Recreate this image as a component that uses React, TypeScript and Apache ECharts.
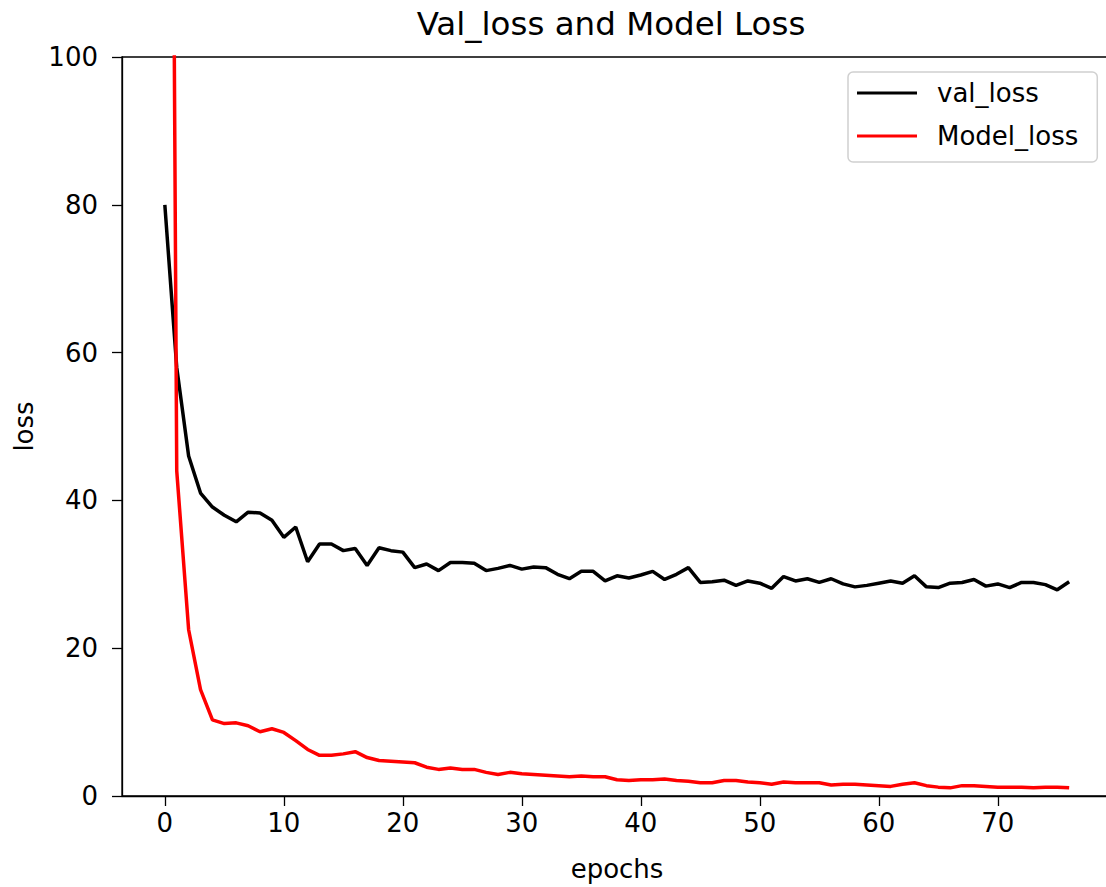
import React, { useEffect, useRef } from "react";
import * as echarts from "echarts";

const TITLE = "Val_loss and Model Loss";
const X_LABEL = "epochs";
const Y_LABEL = "loss";
const X_TICKS = [0, 10, 20, 30, 40, 50, 60, 70];

const valLoss = [
  80, 58, 46, 41, 39.1, 38, 37.1, 38.4, 38.3, 37.3,
  35, 36.4, 31.7, 34.1, 34.1, 33.2, 33.5, 31.2, 33.6, 33.2,
  33.0, 30.9, 31.4, 30.5, 31.6, 31.6, 31.5, 30.5, 30.8, 31.2,
  30.7, 31.0, 30.9, 30.0, 29.4, 30.4, 30.4, 29.1, 29.8, 29.5,
  29.9, 30.4, 29.3, 30.0, 30.9, 28.9, 29.0, 29.2, 28.5, 29.1,
  28.8, 28.1, 29.7, 29.1, 29.4, 28.9, 29.4, 28.7, 28.3, 28.5,
  28.8, 29.1, 28.8, 29.8, 28.3, 28.2, 28.8, 28.9, 29.3, 28.4,
  28.7, 28.2, 28.9, 28.9, 28.6, 27.9, 29.0,
];

const modelLoss = [
  320, 44, 22.5, 14.4, 10.3, 9.8, 9.9, 9.5, 8.7, 9.1,
  8.6, 7.5, 6.3, 5.5, 5.5, 5.7, 6.0, 5.2, 4.8, 4.7,
  4.6, 4.5, 3.9, 3.6, 3.8, 3.6, 3.6, 3.2, 2.9, 3.2,
  3.0, 2.9, 2.8, 2.7, 2.6, 2.7, 2.6, 2.6, 2.2, 2.1,
  2.2, 2.2, 2.3, 2.1, 2.0, 1.8, 1.8, 2.1, 2.1, 1.9,
  1.8, 1.6, 1.9, 1.8, 1.8, 1.8, 1.5, 1.6, 1.6, 1.5,
  1.4, 1.3, 1.6, 1.8, 1.4, 1.2, 1.1, 1.4, 1.4, 1.3,
  1.2, 1.2, 1.2, 1.1, 1.2, 1.2, 1.1,
];

const FONT = "DejaVu Sans";

export default function App() {
  const ref = useRef<HTMLDivElement>(null);
  useEffect(() => {
    if (!ref.current) return;
    const chart = echarts.init(ref.current, undefined, { renderer: "svg" });
    chart.setOption({
      animation: false,
      backgroundColor: "#ffffff",
      textStyle: { fontFamily: FONT },
      graphic: [
        {
          type: "text",
          x: 611,
          y: 24,
          style: {
            text: TITLE,
            fontFamily: FONT,
            fontSize: 32.5,
            fill: "#000",
            align: "center",
            verticalAlign: "middle",
          },
        },
      ],
      grid: {
        left: 122,
        top: 57,
        width: 990,
        height: 740,
        show: true,
        borderColor: "#000",
        borderWidth: 1.3,
        backgroundColor: "transparent",
      },
      legend: {
        orient: "vertical",
        left: 848,
        top: 72,
        icon: "rect",
        itemWidth: 60,
        itemHeight: 3,
        itemGap: 17,
        padding: [8, 19, 13, 9],
        backgroundColor: "#fff",
        borderColor: "#d0d0d0",
        borderWidth: 1.5,
        borderRadius: 5,
        textStyle: {
          fontFamily: FONT,
          fontSize: 26,
          color: "#000",
          padding: [0, 0, 0, 15],
        },
        data: ["val_loss", "Model_loss"],
      },
      xAxis: {
        type: "value",
        min: -3.6,
        max: 79.6,
        name: X_LABEL,
        nameLocation: "middle",
        nameGap: 60,
        nameTextStyle: { fontFamily: FONT, fontSize: 26, color: "#000" },
        splitLine: { show: false },
        axisLine: { show: true, onZero: false, lineStyle: { color: "#000", width: 1.3 } },
        axisTick: {
          show: true,
          length: 10,
          lineStyle: { color: "#000", width: 1.3 },
          customValues: X_TICKS,
        },
        axisLabel: {
          fontFamily: FONT,
          fontSize: 26,
          color: "#000",
          margin: 14,
          customValues: X_TICKS,
        },
      },
      yAxis: {
        type: "value",
        min: 0,
        max: 100,
        interval: 20,
        name: Y_LABEL,
        nameLocation: "middle",
        nameGap: 85,
        nameTextStyle: { fontFamily: FONT, fontSize: 26, color: "#000" },
        splitLine: { show: false },
        axisLine: { show: true, onZero: false, lineStyle: { color: "#000", width: 1.3 } },
        axisTick: { show: true, length: 10, lineStyle: { color: "#000", width: 1.3 } },
        axisLabel: { fontFamily: FONT, fontSize: 26, color: "#000", margin: 24 },
      },
      series: [
        {
          name: "val_loss",
          type: "line",
          data: valLoss.map((v, i) => [i, v]),
          symbol: "none",
          lineStyle: { color: "#000", width: 3.5 },
          itemStyle: { color: "#000" },
          clip: true,
        },
        {
          name: "Model_loss",
          type: "line",
          data: modelLoss.map((v, i) => [i, v]),
          symbol: "none",
          lineStyle: { color: "#ff0000", width: 3.5 },
          itemStyle: { color: "#ff0000" },
          clip: true,
        },
      ],
    });
    return () => chart.dispose();
  }, []);
  return (
    <div
      ref={ref}
      style={{ position: "fixed", left: 0, top: 0, width: 1130, height: 887 }}
    />
  );
}
